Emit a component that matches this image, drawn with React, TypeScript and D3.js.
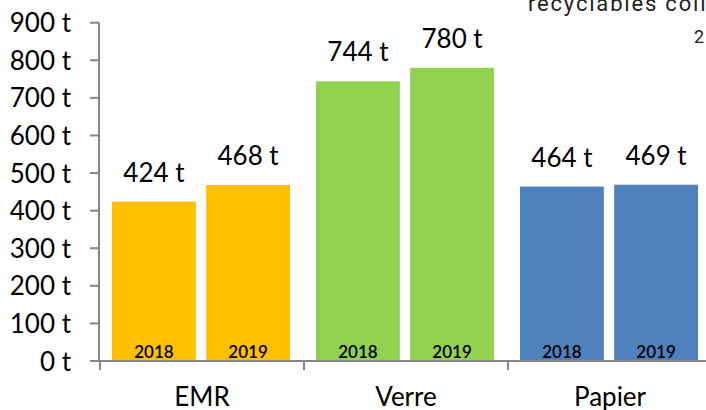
import * as d3 from 'd3';

// chart data
const categories = ['EMR', 'Verre', 'Papier'];
const years = ['2018', '2019'];
const tonnes2018 = [424, 744, 464];
const tonnes2019 = [468, 780, 469];
const colors = ['#FFC000', '#92D050', '#4F81BD'];
const yTicks = [0, 100, 200, 300, 400, 500, 600, 700, 800, 900];

const W = 706;
const H = 410;
const FONT = 'Lato, "Open Sans", sans-serif';

export default function App() {
  const x = d3.scaleBand<string>().domain(categories).range([100, 712]);
  const xInner = d3.scaleBand<string>().domain(years).range([12, 190]).paddingInner(0.11);
  const y = d3.scaleLinear().domain([0, 900]).range([361, 22.7]);

  const rows = categories.map((c, i) => ({
    cat: c,
    color: colors[i],
    values: [tonnes2018[i], tonnes2019[i]],
  }));

  const axisColor = '#868686';

  return (
    <svg
      width={W}
      height={H}
      style={{ position: 'absolute', left: 0, top: 0, background: '#fff' }}
      fontFamily={FONT}
    >
      {/* partially visible title, cut off by the frame */}
      <text x={528} y={11} fontSize={22} letterSpacing={1.8} fontFamily="Roboto, sans-serif" fill="#222">
        recyclables collectés
      </text>
      <text x={694} y={43} fontSize={18} letterSpacing={2} fontFamily="Roboto, sans-serif" fill="#222">
        2018-2019
      </text>

      {/* bars */}
      {rows.map((r) => (
        <g key={r.cat} transform={`translate(${x(r.cat)},0)`}>
          {r.values.map((v, j) => {
            const bx = xInner(years[j])!;
            const bw = xInner.bandwidth();
            return (
              <g key={years[j]}>
                <rect x={bx} y={y(v)} width={bw} height={y(0) - y(v)} fill={r.color} />
                <text
                  x={bx + bw / 2}
                  y={y(v) - 20}
                  textAnchor="middle"
                  fontSize={26}
                  fill="#000"
                >
                  {`${v} t`}
                </text>
                <text
                  x={bx + bw / 2}
                  y={358}
                  textAnchor="middle"
                  fontSize={17}
                  fontWeight={600}
                  fill="#000"
                >
                  {years[j]}
                </text>
              </g>
            );
          })}
        </g>
      ))}

      {/* y axis */}
      <line x1={99} x2={99} y1={y(900)} y2={y(0)} stroke={axisColor} strokeWidth={2} />
      {yTicks.map((t) => (
        <g key={t}>
          <line x1={90} x2={99} y1={y(t)} y2={y(t)} stroke={axisColor} strokeWidth={2} />
          <text x={71} y={y(t) + 9.5} textAnchor="end" fontSize={26} fill="#000">
            {`${t} t`}
          </text>
        </g>
      ))}

      {/* x axis */}
      <line x1={98} x2={W} y1={361} y2={361} stroke={axisColor} strokeWidth={2} />
      {[...categories.map((c) => x(c)!), x.range()[1]].map((px, i) => (
        <line key={i} x1={px} x2={px} y1={361} y2={370} stroke={axisColor} strokeWidth={2} />
      ))}
      {categories.map((c) => (
        <text key={c} x={x(c)! + x.bandwidth() / 2} y={406} textAnchor="middle" fontSize={26} fill="#000">
          {c}
        </text>
      ))}
    </svg>
  );
}
